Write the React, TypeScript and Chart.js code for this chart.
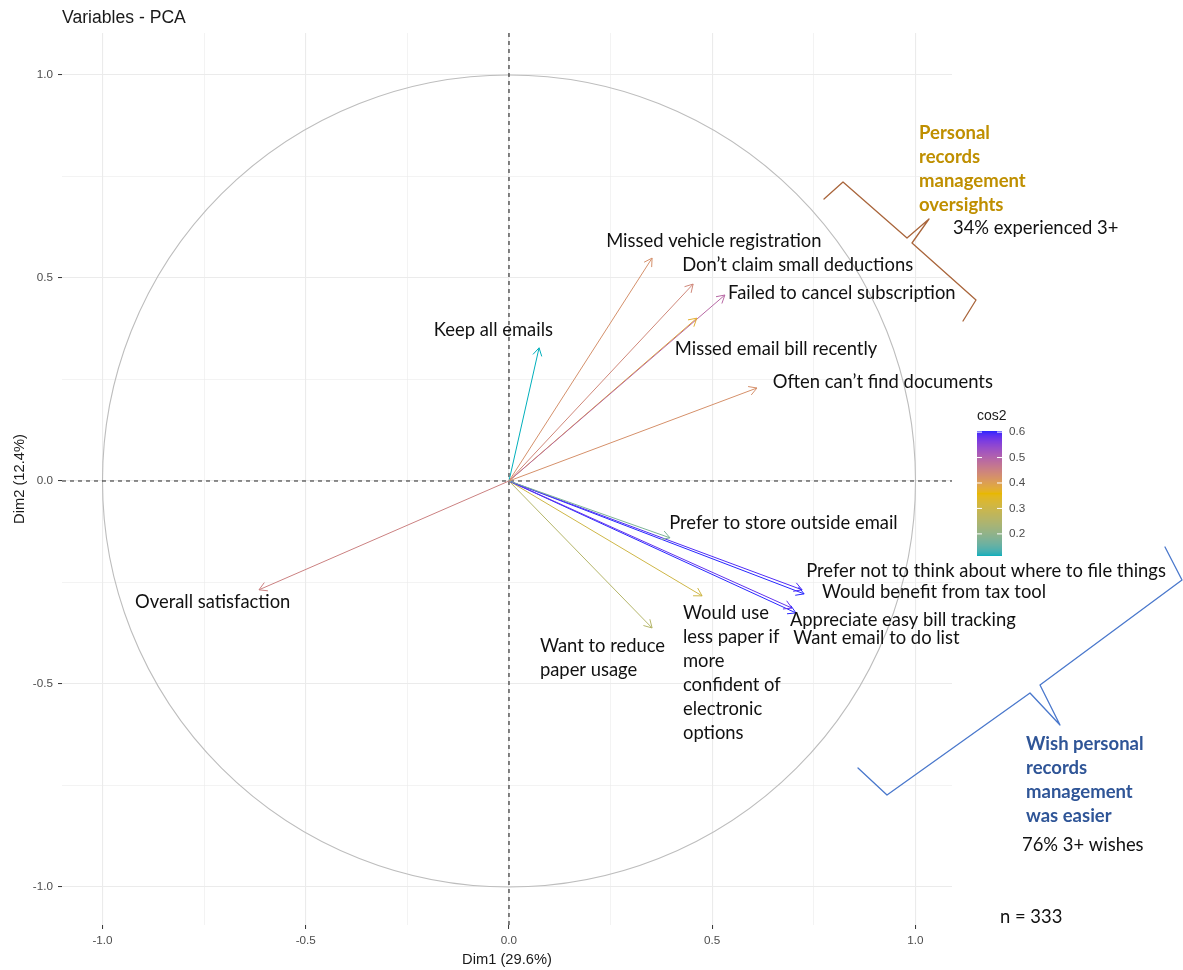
import React, { useEffect, useRef } from 'react';
import { Chart, registerables } from 'chart.js';
Chart.register(...registerables);

// ---------- data ----------
const variableNames = [
  'Missed vehicle registration',
  'Don’t claim small deductions',
  'Failed to cancel subscription',
  'Missed email bill recently',
  'Often can’t find documents',
  'Keep all emails',
  'Overall satisfaction',
  'Prefer to store outside email',
  'Prefer not to think about where to file things',
  'Would benefit from tax tool',
  'Appreciate easy bill tracking',
  'Want email to do list',
  'Would use less paper if more confident of electronic options',
  'Want to reduce paper usage',
];
const labelLines = [
  ['Missed vehicle registration'],
  ['Don’t claim small deductions'],
  ['Failed to cancel subscription'],
  ['Missed email bill recently'],
  ['Often can’t find documents'],
  ['Keep all emails'],
  ['Overall satisfaction'],
  ['Prefer to store outside email'],
  ['Prefer not to think about where to file things'],
  ['Would benefit from tax tool'],
  ['Appreciate easy bill tracking'],
  ['Want email to do list'],
  ['Would use', 'less paper if', 'more', 'confident of', 'electronic', 'options'],
  ['Want to reduce', 'paper usage'],
];
const dim1 = [0.352, 0.453, 0.531, 0.462, 0.610, 0.074, -0.615, 0.396, 0.721, 0.726, 0.696, 0.706, 0.475, 0.352];
const dim2 = [0.549, 0.485, 0.458, 0.401, 0.229, 0.328, -0.268, -0.140, -0.268, -0.278, -0.313, -0.325, -0.283, -0.362];

// label anchor (left, middle of first line) in data units
const labelX = [0.239, 0.426, 0.539, 0.408, 0.649, -0.185, -0.920, 0.394, 0.731, 0.770, 0.691, 0.699, 0.428, 0.076];
const labelY = [0.591, 0.532, 0.463, 0.325, 0.244, 0.372, -0.298, -0.103, -0.222, -0.273, -0.342, -0.387, -0.325, -0.406];

const majorTicks = [-1, -0.5, 0, 0.5, 1];
const majorTickLabels = ['-1.0', '-0.5', '0.0', '0.5', '1.0'];
const minorTicks = [-0.75, -0.25, 0.25, 0.75];
const legendTicks = [0.2, 0.3, 0.4, 0.5, 0.6];
const legendTickLabels = ['0.2', '0.3', '0.4', '0.5', '0.6'];
const gradientColors = ['#00AFBB', '#E7B800', '#2626FF'];

const titleText = 'Variables - PCA';
const xTitle = 'Dim1 (29.6%)';
const yTitle = 'Dim2 (12.4%)';
const legendTitle = 'cos2';

const oversightLines = ['Personal', 'records', 'management', 'oversights'];
const oversightNote = '34% experienced 3+';
const wishLines = ['Wish personal', 'records', 'management', 'was easier'];
const wishNote = '76% 3+ wishes';
const nNote = 'n = 333';

// ---------- layout ----------
const W = 1183;
const H = 970;
const XMIN = -1.0996, XMAX = 1.0898, YMIN = -1.0936, YMAX = 1.1034;
const LABEL_FONT = '18.4px Lato, "Open Sans", sans-serif';
const BOLD_FONT = 'bold 18.5px Lato, "Open Sans", sans-serif';
const AXIS_FONT = '"Liberation Sans", Arial, sans-serif';

// ---------- colour helpers (Lab interpolation like ggplot) ----------
function hexToRgb(h: string): number[] {
  const s = h.replace('#', '');
  return [0, 2, 4].map((i) => parseInt(s.slice(i, i + 2), 16));
}
function lin(c: number) {
  c /= 255;
  return c <= 0.04045 ? c / 12.92 : Math.pow((c + 0.055) / 1.055, 2.4);
}
function unlin(c: number) {
  const v = c <= 0.0031308 ? 12.92 * c : 1.055 * Math.pow(c, 1 / 2.4) - 0.055;
  return Math.max(0, Math.min(255, Math.round(v * 255)));
}
function rgbToLab(rgb: number[]) {
  const [R, G, B] = rgb.map(lin);
  const X = (0.4124 * R + 0.3576 * G + 0.1805 * B) / 0.95047;
  const Y = 0.2126 * R + 0.7152 * G + 0.0722 * B;
  const Z = (0.0193 * R + 0.1192 * G + 0.9505 * B) / 1.08883;
  const f = (t: number) => (t > 0.008856 ? Math.cbrt(t) : 7.787 * t + 16 / 116);
  const fx = f(X), fy = f(Y), fz = f(Z);
  return [116 * fy - 16, 500 * (fx - fy), 200 * (fy - fz)];
}
function labToRgb(lab: number[]) {
  const [L, a, b] = lab;
  const fy = (L + 16) / 116;
  const fx = fy + a / 500;
  const fz = fy - b / 200;
  const fi = (t: number) => (t * t * t > 0.008856 ? t * t * t : (t - 16 / 116) / 7.787);
  const X = fi(fx) * 0.95047, Y = fi(fy), Z = fi(fz) * 1.08883;
  const R = 3.2406 * X - 1.5372 * Y - 0.4986 * Z;
  const G = -0.9689 * X + 1.8758 * Y + 0.0415 * Z;
  const Bc = 0.0557 * X - 0.204 * Y + 1.057 * Z;
  return [unlin(R), unlin(G), unlin(Bc)];
}
const labStops = gradientColors.map((c) => rgbToLab(hexToRgb(c)));

const cos2 = dim1.map((x, i) => x * x + dim2[i] * dim2[i]);
const cMin = Math.min(...cos2);
const cMax = Math.max(...cos2);

function colorFor(v: number) {
  let t = (v - cMin) / (cMax - cMin);
  t = Math.max(0, Math.min(1, t));
  const seg = t < 0.5 ? 0 : 1;
  const s = t < 0.5 ? t * 2 : t * 2 - 1;
  const a = labStops[seg], b = labStops[seg + 1];
  const lab = [0, 1, 2].map((k) => a[k] + (b[k] - a[k]) * s);
  const [r, g, bb] = labToRgb(lab);
  return `rgb(${r},${g},${bb})`;
}

// ---------- plugin ----------
const pcaPlugin = {
  id: 'pcaDecor',
  beforeDatasetsDraw(chart: any) {
    const { ctx, chartArea: a, scales } = chart;
    const x = scales.x, y = scales.y;
    const cx = x.getPixelForValue(0), cy = y.getPixelForValue(0);
    const rx = x.getPixelForValue(1) - cx;
    const ry = cy - y.getPixelForValue(1);
    ctx.save();
    ctx.strokeStyle = '#BDBDBD';
    ctx.lineWidth = 1.1;
    ctx.beginPath();
    ctx.ellipse(cx, cy, rx, ry, 0, 0, Math.PI * 2);
    ctx.stroke();
    ctx.strokeStyle = '#222';
    ctx.lineWidth = 1.1;
    ctx.setLineDash([4, 4]);
    ctx.beginPath();
    ctx.moveTo(a.left, cy);
    ctx.lineTo(a.right, cy);
    ctx.moveTo(cx, a.top);
    ctx.lineTo(cx, a.bottom);
    ctx.stroke();
    ctx.restore();
  },
  afterDatasetsDraw(chart: any) {
    const { ctx, scales } = chart;
    const x = scales.x, y = scales.y;
    ctx.save();
    // arrowheads
    chart.data.datasets.forEach((ds: any, i: number) => {
      const meta = chart.getDatasetMeta(i);
      const p0 = meta.data[0], p1 = meta.data[1];
      const ang = Math.atan2(p1.y - p0.y, p1.x - p0.x);
      const len = 9;
      const spread = Math.PI / 6;
      ctx.strokeStyle = ds.borderColor;
      ctx.lineWidth = 1;
      ctx.beginPath();
      ctx.moveTo(p1.x - len * Math.cos(ang - spread), p1.y - len * Math.sin(ang - spread));
      ctx.lineTo(p1.x, p1.y);
      ctx.lineTo(p1.x - len * Math.cos(ang + spread), p1.y - len * Math.sin(ang + spread));
      ctx.stroke();
    });
    // labels
    ctx.fillStyle = '#111';
    ctx.font = LABEL_FONT;
    ctx.textBaseline = 'middle';
    ctx.textAlign = 'left';
    labelLines.forEach((lines, i) => {
      const lx = x.getPixelForValue(labelX[i]);
      const ly = y.getPixelForValue(labelY[i]);
      lines.forEach((t, k) => ctx.fillText(t, lx, ly + k * 24));
    });
    ctx.restore();
  },
  afterDraw(chart: any) {
    const { ctx, chartArea: a } = chart;
    ctx.save();
    // title
    ctx.fillStyle = '#1a1a1a';
    ctx.font = `17.6px ${AXIS_FONT}`;
    ctx.textBaseline = 'middle';
    ctx.textAlign = 'left';
    ctx.fillText(titleText, a.left, 18);
    // axis titles
    ctx.font = `14.7px ${AXIS_FONT}`;
    ctx.textAlign = 'center';
    ctx.fillText(xTitle, (a.left + a.right) / 2, 960);
    ctx.save();
    ctx.translate(20, (a.top + a.bottom) / 2);
    ctx.rotate(-Math.PI / 2);
    ctx.fillText(yTitle, 0, 0);
    ctx.restore();

    // colour bar legend
    const bx = 977, bw = 25, bt = 431, bb = 556;
    for (let py = bt; py < bb; py++) {
      const v = cMax - ((py + 0.5 - bt) / (bb - bt)) * (cMax - cMin);
      ctx.fillStyle = colorFor(v);
      ctx.fillRect(bx, py, bw, 1);
    }
    ctx.fillStyle = '#1a1a1a';
    ctx.font = `14px ${AXIS_FONT}`;
    ctx.textAlign = 'left';
    ctx.fillText(legendTitle, bx, 416);
    ctx.font = `11.7px ${AXIS_FONT}`;
    ctx.fillStyle = '#4D4D4D';
    legendTicks.forEach((v, k) => {
      const py = bb - ((v - cMin) / (cMax - cMin)) * (bb - bt);
      ctx.strokeStyle = '#FFFFFF';
      ctx.lineWidth = 1;
      ctx.beginPath();
      ctx.moveTo(bx, py);
      ctx.lineTo(bx + 5, py);
      ctx.moveTo(bx + bw - 5, py);
      ctx.lineTo(bx + bw, py);
      ctx.stroke();
      ctx.fillText(legendTickLabels[k], bx + bw + 7, py);
    });

    // annotations
    ctx.font = BOLD_FONT;
    ctx.fillStyle = '#BF8F00';
    oversightLines.forEach((t, k) => ctx.fillText(t, 919, 133 + k * 24));
    ctx.font = LABEL_FONT;
    ctx.fillStyle = '#111';
    ctx.fillText(oversightNote, 953, 228);

    ctx.font = BOLD_FONT;
    ctx.fillStyle = '#2F5597';
    wishLines.forEach((t, k) => ctx.fillText(t, 1026, 744 + k * 24));
    ctx.font = LABEL_FONT;
    ctx.fillStyle = '#111';
    ctx.fillText(wishNote, 1022, 845);
    ctx.fillText(nNote, 1000, 917);

    // braces
    const brace = (pts: number[][], color: string) => {
      ctx.strokeStyle = color;
      ctx.lineWidth = 1.3;
      ctx.lineJoin = 'round';
      ctx.lineCap = 'round';
      ctx.beginPath();
      ctx.moveTo(pts[0][0], pts[0][1]);
      for (let k = 1; k < pts.length; k++) ctx.lineTo(pts[k][0], pts[k][1]);
      ctx.stroke();
    };
    brace([[824, 199], [843, 182], [907, 238], [929, 219], [912, 243], [976, 300], [963, 321]], '#A9653B');
    brace([[1165, 547], [1182, 580], [1040, 685], [1060, 725], [1030, 693], [887, 795], [858, 768]], '#4A78CC');
    ctx.restore();
  },
};

export default function App() {
  const ref = useRef<HTMLCanvasElement | null>(null);
  useEffect(() => {
    if (!ref.current) return;
    const allTicks = [...majorTicks, ...minorTicks].sort((p, q) => p - q);
    const isMajor = (v: number) => majorTicks.some((m) => Math.abs(m - v) < 1e-9);
    const tickLabel = (v: number) => {
      const idx = majorTicks.findIndex((m) => Math.abs(m - v) < 1e-9);
      return idx >= 0 ? majorTickLabels[idx] : '';
    };
    const axisCommon = (fitSize: number, horizontal: boolean) => ({
      type: 'linear' as const,
      afterBuildTicks: (scale: any) => {
        scale.ticks = allTicks.map((v) => ({ value: v }));
      },
      afterFit: (scale: any) => {
        if (horizontal) scale.height = fitSize;
        else scale.width = fitSize;
      },
      border: { display: false },
      grid: {
        color: '#EBEBEB',
        lineWidth: (c: any) => (c.tick && isMajor(c.tick.value) ? 1.1 : 0.6),
        drawTicks: true,
        tickLength: 4,
        tickWidth: 1,
        tickColor: (c: any) => (c.tick && isMajor(c.tick.value) ? '#333333' : 'rgba(0,0,0,0)'),
      },
      ticks: {
        autoSkip: false,
        maxRotation: 0,
        padding: 5,
        color: '#4D4D4D',
        font: { family: AXIS_FONT, size: 11.7 },
        callback: (v: any) => tickLabel(Number(v)),
      },
    });
    const chart = new Chart(ref.current, {
      type: 'line',
      data: {
        datasets: variableNames.map((name, i) => ({
          label: name,
          data: [
            { x: 0, y: 0 },
            { x: dim1[i], y: dim2[i] },
          ],
          borderColor: colorFor(cos2[i]),
          borderWidth: 1,
          pointRadius: 0,
          fill: false,
          tension: 0,
        })),
      },
      options: {
        responsive: false,
        animation: false,
        parsing: false as any,
        layout: { padding: { left: 0, top: 33, right: W - 952, bottom: 0 } },
        plugins: {
          legend: { display: false },
          tooltip: { enabled: false },
          title: { display: false },
        },
        scales: {
          x: { ...axisCommon(H - 925, true), min: XMIN, max: XMAX },
          y: { ...axisCommon(62, false), min: YMIN, max: YMAX },
        },
      },
      plugins: [pcaPlugin],
    });
    return () => chart.destroy();
  }, []);
  return (
    <div style={{ position: 'fixed', left: 0, top: 0, width: W, height: H, background: '#fff' }}>
      <canvas ref={ref} width={W} height={H} style={{ width: W, height: H, display: 'block' }} />
    </div>
  );
}
